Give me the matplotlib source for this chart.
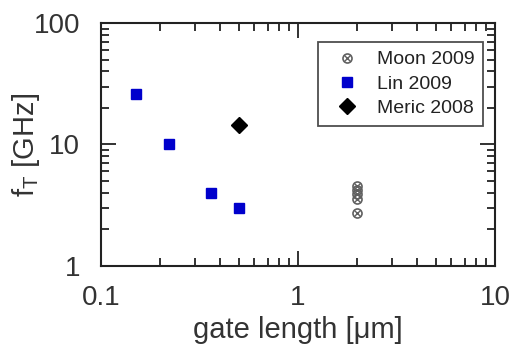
import matplotlib
matplotlib.use("Agg")
import matplotlib.pyplot as plt
from matplotlib.ticker import LogLocator, NullFormatter
from matplotlib.legend_handler import HandlerTuple

plt.rcParams['font.family'] = ['Liberation Sans', 'DejaVu Sans']
plt.rcParams['mathtext.fontset'] = 'custom'
plt.rcParams['mathtext.rm'] = 'Liberation Sans'
plt.rcParams['mathtext.it'] = 'Liberation Sans:italic'

moon_x = [2, 2, 2, 2, 2]
moon_y = [4.55, 4.25, 3.92, 3.55, 2.72]
lin_x = [0.15, 0.22, 0.36, 0.5]
lin_y = [26, 10, 4, 3]
meric_x = [0.5]
meric_y = [14.5]

xticks = [0.1, 1, 10]
xticklabels = ['0.1', '1', '10']
yticks = [1, 10, 100]
yticklabels = ['1', '10', '100']

fig = plt.figure(figsize=(5.13, 3.44), dpi=100)
ax = fig.add_axes([0.197, 0.227, 0.768, 0.706])

gray = '#606060'
m1, = ax.plot(moon_x, moon_y, 'o', ms=6.5, mfc='none', mec=gray, mew=1.2, linestyle='none')
m2, = ax.plot(moon_x, moon_y, 'x', ms=4, mec=gray, mew=1.0, linestyle='none')
l1, = ax.plot(lin_x, lin_y, 's', ms=7.5, color='#0000cc', linestyle='none')
d1, = ax.plot(meric_x, meric_y, 'D', ms=8.5, color='black', linestyle='none')

ax.set_xscale('log')
ax.set_yscale('log')
ax.set_xlim(0.1, 10)
ax.set_ylim(1, 100)
ax.set_xticks(xticks)
ax.set_xticklabels(xticklabels)
ax.set_yticks(yticks)
ax.set_yticklabels(yticklabels)
ax.xaxis.set_minor_locator(LogLocator(base=10, subs=range(2, 10)))
ax.yaxis.set_minor_locator(LogLocator(base=10, subs=range(2, 10)))
ax.xaxis.set_minor_formatter(NullFormatter())
ax.yaxis.set_minor_formatter(NullFormatter())

ax.tick_params(which='both', direction='in', top=True, right=True, width=1.3, colors='#222222',
               labelsize=20, labelcolor='#333333')
ax.tick_params(which='major', length=11)
ax.tick_params(which='minor', length=6)
ax.tick_params(axis='x', which='major', pad=14)
ax.tick_params(axis='y', which='major', pad=15)
for s in ax.spines.values():
    s.set_linewidth(1.5)
    s.set_color('#222222')

ax.set_xlabel('gate length [\u03bcm]', fontsize=21, color='#333333', labelpad=3)
ax.set_ylabel(r'f$_\mathrm{T}$ [GHz]', fontsize=21, color='#333333', labelpad=-6)

leg = ax.legend([(m1, m2), l1, d1], ['Moon 2009', 'Lin 2009', 'Meric 2008'],
                handler_map={tuple: HandlerTuple(ndivide=1, pad=0)},
                loc='upper right', bbox_to_anchor=(0.9695, 0.922), fontsize=14,
                frameon=True, fancybox=False, edgecolor='#222222',
                handlelength=2.1, handletextpad=0.45, borderpad=0.45, labelspacing=0.35,
                borderaxespad=0)
leg.get_frame().set_linewidth(1.3)
for t in leg.get_texts():
    t.set_color('#222222')

fig.savefig('out.png', dpi=100)
